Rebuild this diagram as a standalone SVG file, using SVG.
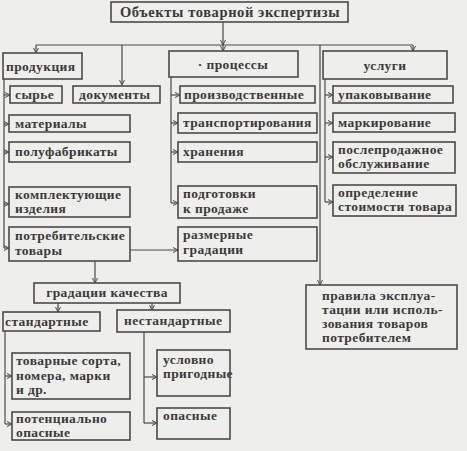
<svg xmlns="http://www.w3.org/2000/svg" width="467" height="451" viewBox="0 0 467 451">
<defs>
<marker id="ah" viewBox="0 0 6 6" refX="5.5" refY="3" markerWidth="6" markerHeight="6" markerUnits="userSpaceOnUse" orient="auto">
<path d="M0.5,0.5 L5.5,3 L0.5,5.5" fill="none" stroke="#4a4a4a" stroke-width="1"/>
</marker>
<style>
.b{fill:none;stroke:#4a4a4a;stroke-width:1.6}
.c{fill:none;stroke:#4a4a4a;stroke-width:1.2}
.a{marker-end:url(#ah)}
text{font-family:"Liberation Serif","Times New Roman",serif;font-size:13.5px;font-weight:bold;letter-spacing:0.4px;fill:#3a3a3a}
.t{font-size:14.5px;letter-spacing:0.6px}
</style>
</defs>
<rect width="467" height="451" fill="#eeeeeb"/>
<g id="connectors">
<path class="c a" d="M223,22 V45"/>
<path class="c" d="M36,45 H413"/>
<path class="c a" d="M36,45 V53"/>
<path class="c a" d="M122,45 V85"/>
<path class="c a" d="M223,45 V51"/>
<path class="c a" d="M413,45 V51"/>
<path class="c a" d="M320,45 V285"/>
<path class="c" d="M4,79 V248"/>
<path class="c a" d="M4,95 H10"/>
<path class="c a" d="M4,124 H9"/>
<path class="c a" d="M4,152 H9"/>
<path class="c a" d="M4,204 H9"/>
<path class="c a" d="M4,248 H9"/>
<path class="c a" d="M130,250 H178"/>
<path class="c" d="M171,77 V203"/>
<path class="c a" d="M171,95 H180"/>
<path class="c a" d="M171,123 H178"/>
<path class="c a" d="M171,152 H178"/>
<path class="c a" d="M171,203 H178"/>
<path class="c" d="M325,79 V202"/>
<path class="c a" d="M325,95 H333"/>
<path class="c a" d="M325,123 H333"/>
<path class="c a" d="M325,157 H333"/>
<path class="c a" d="M325,202 H333"/>
<path class="c a" d="M95,261 V283"/>
<path class="c a" d="M58,303 V312"/>
<path class="c a" d="M152,303 V310"/>
<path class="c" d="M5,331 V424"/>
<path class="c a" d="M5,376 H12"/>
<path class="c a" d="M5,424 H12"/>
<path class="c" d="M144,332 V423"/>
<path class="c a" d="M144,377 H157"/>
<path class="c a" d="M144,423 H157"/>
</g>
<g id="title"><rect class="b" x="111" y="2" width="237" height="20"/><text class="t" x="230" y="16.5" text-anchor="middle">Объекты товарной экспертизы</text></g>
<g id="produkciya"><rect class="b" x="3" y="53" width="79" height="26"/><text x="6" y="71">продукция</text></g>
<g id="processy"><rect class="b" x="169" y="51" width="129" height="26"/><text x="233" y="69" text-anchor="middle">· процессы</text></g>
<g id="uslugi"><rect class="b" x="323" y="51" width="124" height="28"/><text x="385" y="70" text-anchor="middle">услуги</text></g>
<g id="syrye"><rect class="b" x="10" y="86" width="52" height="17"/><text x="15" y="99">сырье</text></g>
<g id="dokumenty"><rect class="b" x="73" y="86" width="87" height="17"/><text x="79" y="99">документы</text></g>
<g id="proizv"><rect class="b" x="180" y="86" width="135" height="17"/><text x="184" y="99">производственные</text></g>
<g id="upak"><rect class="b" x="333" y="86" width="120" height="17"/><text x="338" y="99">упаковывание</text></g>
<g id="materialy"><rect class="b" x="9" y="115" width="121" height="17"/><text x="15" y="128">материалы</text></g>
<g id="transp"><rect class="b" x="178" y="113" width="139" height="20"/><text x="183" y="127">транспортирования</text></g>
<g id="mark"><rect class="b" x="333" y="113" width="122" height="19"/><text x="338" y="127">маркирование</text></g>
<g id="polufab"><rect class="b" x="9" y="142" width="121" height="20"/><text x="15" y="156">полуфабрикаты</text></g>
<g id="hran"><rect class="b" x="178" y="142" width="139" height="20"/><text x="183" y="156">хранения</text></g>
<g id="posle"><rect class="b" x="333" y="142" width="122" height="31"/><text x="338" y="154">послепродажное</text><text x="338" y="168">обслуживание</text></g>
<g id="komplekt"><rect class="b" x="9" y="187" width="121" height="30"/><text x="15" y="199">комплектующие</text><text x="15" y="213">изделия</text></g>
<g id="podgot"><rect class="b" x="178" y="186" width="139" height="32"/><text x="183" y="198">подготовки</text><text x="183" y="213">к продаже</text></g>
<g id="opred"><rect class="b" x="333" y="185" width="123" height="31"/><text x="338" y="197">определение</text><text x="338" y="211">стоимости товара</text></g>
<g id="potreb"><rect class="b" x="9" y="227" width="121" height="34"/><text x="15" y="240">потребительские</text><text x="15" y="255">товары</text></g>
<g id="razmer"><rect class="b" x="178" y="227" width="139" height="34"/><text x="183" y="239">размерные</text><text x="183" y="254">градации</text></g>
<g id="pravila"><rect class="b" x="306" y="285" width="151" height="64"/><text x="322" y="300">правила эксплуа-</text><text x="322" y="314">тации или исполь-</text><text x="322" y="328">зования товаров</text><text x="322" y="342">потребителем</text></g>
<g id="gradkach"><rect class="b" x="34" y="283" width="146" height="20"/><text x="107" y="297" text-anchor="middle">градации качества</text></g>
<g id="standart"><rect class="b" x="3" y="312" width="97" height="19"/><text x="5" y="326">стандартные</text></g>
<g id="nestandart"><rect class="b" x="117" y="310" width="113" height="22"/><text x="124" y="325">нестандартные</text></g>
<g id="tovsorta"><rect class="b" x="12" y="353" width="118" height="46"/><text x="16" y="365">товарные сорта,</text><text x="16" y="380">номера, марки</text><text x="16" y="394">и др.</text></g>
<g id="potenc"><rect class="b" x="12" y="412" width="118" height="28"/><text x="16" y="423">потенциально</text><text x="16" y="437">опасные</text></g>
<g id="uslovno"><rect class="b" x="157" y="350" width="73" height="46"/><text x="163" y="364">условно</text><text x="163" y="378">пригодные</text></g>
<g id="opasnye"><rect class="b" x="157" y="408" width="73" height="31"/><text x="163" y="420">опасные</text></g>
</svg>
